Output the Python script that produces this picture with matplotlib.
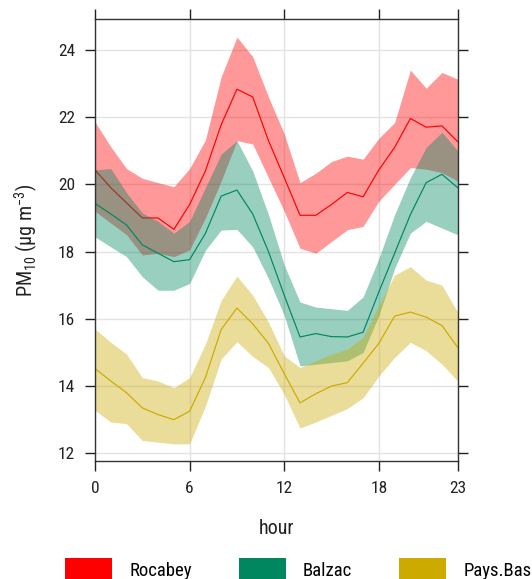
import matplotlib
matplotlib.use("Agg")
import matplotlib.pyplot as plt
from matplotlib.patches import Patch
from matplotlib import font_manager

hours = list(range(24))
sites = ["Rocabey", "Balzac", "Pays.Bas"]
colors = ["#FF0000", "#00875F", "#CCAA00"]

roc_mean = [20.43, 19.9, 19.45, 19.0, 19.0, 18.66, 19.4, 20.4, 21.77, 22.83, 22.6, 21.3,
            20.2, 19.08, 19.08, 19.4, 19.76, 19.63, 20.43, 21.1, 21.96, 21.7, 21.74, 21.27]
roc_upper = [21.86, 21.12, 20.47, 20.18, 20.05, 19.93, 20.47, 21.32, 23.2, 24.38, 23.8, 22.6,
             21.5, 20.05, 20.33, 20.68, 20.84, 20.75, 21.37, 21.84, 23.4, 22.86, 23.33, 23.13]
roc_lower = [19.2, 18.85, 18.5, 17.9, 17.95, 17.85, 18.05, 19.0, 20.1, 21.3, 21.2, 20.2,
             19.2, 18.1, 17.95, 18.3, 18.65, 18.75, 19.5, 20.0, 20.5, 20.45, 20.35, 20.1]

bal_mean = [19.43, 19.12, 18.79, 18.2, 17.95, 17.7, 17.76, 18.54, 19.65, 19.83, 19.12, 18.0,
            16.7, 15.46, 15.56, 15.47, 15.46, 15.6, 16.8, 17.95, 19.1, 20.05, 20.3, 19.9]
bal_upper = [20.43, 20.47, 19.75, 19.15, 18.9, 18.55, 18.9, 19.9, 20.9, 21.3, 20.4, 19.1,
             17.6, 16.5, 16.35, 16.3, 16.25, 16.65, 17.8, 19.1, 20.2, 21.1, 21.55, 21.0]
bal_lower = [18.44, 18.14, 17.85, 17.25, 16.85, 16.85, 17.05, 18.04, 18.64, 18.66, 18.14, 17.2,
             16.1, 14.6, 14.65, 14.7, 14.75, 15.0, 16.1, 17.5, 18.55, 18.9, 18.7, 18.5]

pb_mean = [14.52, 14.15, 13.8, 13.35, 13.15, 13.0, 13.25, 14.25, 15.68, 16.32, 15.85, 15.27,
           14.37, 13.5, 13.77, 14.0, 14.1, 14.68, 15.27, 16.08, 16.2, 16.05, 15.8, 15.15]
pb_upper = [15.7, 15.3, 14.95, 14.25, 14.15, 13.95, 14.25, 15.25, 16.55, 17.27, 16.7, 15.9,
            14.9, 14.55, 14.75, 14.95, 15.1, 15.45, 16.4, 17.3, 17.55, 17.15, 17.0, 16.2]
pb_lower = [13.28, 12.93, 12.88, 12.38, 12.33, 12.28, 12.28, 13.4, 14.8, 15.32, 14.88, 14.55,
            13.75, 12.75, 12.93, 13.13, 13.33, 13.65, 14.3, 14.85, 15.3, 15.05, 14.65, 14.15]

x_ticks = [0, 6, 12, 18, 23]
y_ticks = [12, 14, 16, 18, 20, 22, 24]

# look for a narrow sans face, else fall back to Liberation Sans
narrow = None
stretch = "normal"
for f in font_manager.fontManager.ttflist:
    if f.name in ("Liberation Sans Narrow", "Arial Narrow", "Roboto Condensed",
                  "Open Sans Condensed"):
        narrow = f.name
        break
if narrow is None:
    for f in font_manager.fontManager.ttflist:
        if f.name in ("Liberation Sans", "Open Sans", "Roboto", "Noto Sans") and \
                str(f.stretch) in ("condensed", "semi-condensed", "75", "87.5"):
            narrow = f.name
            stretch = f.stretch
            break

if narrow:
    plt.rcParams["font.family"] = [narrow, "DejaVu Sans"]
    plt.rcParams["font.stretch"] = stretch
    leg_size, hl, ht, tp, cs = 13.5, 2.5, 1.55, 0.93, 2.5
else:
    plt.rcParams["font.family"] = ["Liberation Sans", "DejaVu Sans"]
    leg_size, hl, ht, tp, cs = 11, 2.95, 1.85, 1.18, 3.25
plt.rcParams["mathtext.default"] = "regular"

fig = plt.figure(figsize=(5.32, 5.79), dpi=100)
ax = fig.add_axes([95/532, 118/579, (457.7-95)/532, (461-19.3)/579])

series = [(roc_mean, roc_lower, roc_upper), (bal_mean, bal_lower, bal_upper), (pb_mean, pb_lower, pb_upper)]
for (m, lo, up), c in zip(series, colors):
    ax.fill_between(hours, lo, up, color=c, alpha=0.4, linewidth=0, zorder=2)
    ax.plot(hours, m, color=c, linewidth=0.85, zorder=2)

ax.set_xlim(0, 23)
ax.set_ylim(11.77, 24.91)
ax.set_xticks(x_ticks)
ax.set_yticks(y_ticks)
ax.grid(True, color="#E3E3E3", linewidth=1.0, zorder=0)
ax.set_axisbelow(True)
ax.tick_params(axis="both", direction="out", length=7.3, width=1.0, color="#222222",
               labelsize=12.5, pad=7, top=True, right=True, labelcolor="#222222")
for s in ax.spines.values():
    s.set_linewidth(1.0)
    s.set_color("#333333")

ax.set_xlabel("hour", fontsize=14.5, labelpad=17, color="#222222")
ax.set_ylabel("PM$_{10}$ (µg m$^{-3}$)", fontsize=14.5, labelpad=13, color="#222222")

handles = [Patch(facecolor=c, edgecolor="none") for c in colors]
fig.legend(handles, sites, loc="center left", bbox_to_anchor=(65/532, 9/579), ncol=3,
           frameon=False, fontsize=leg_size, handlelength=hl, handleheight=ht,
           handletextpad=tp, columnspacing=cs, borderpad=0, borderaxespad=0)

fig.savefig("out.png", dpi=100)
